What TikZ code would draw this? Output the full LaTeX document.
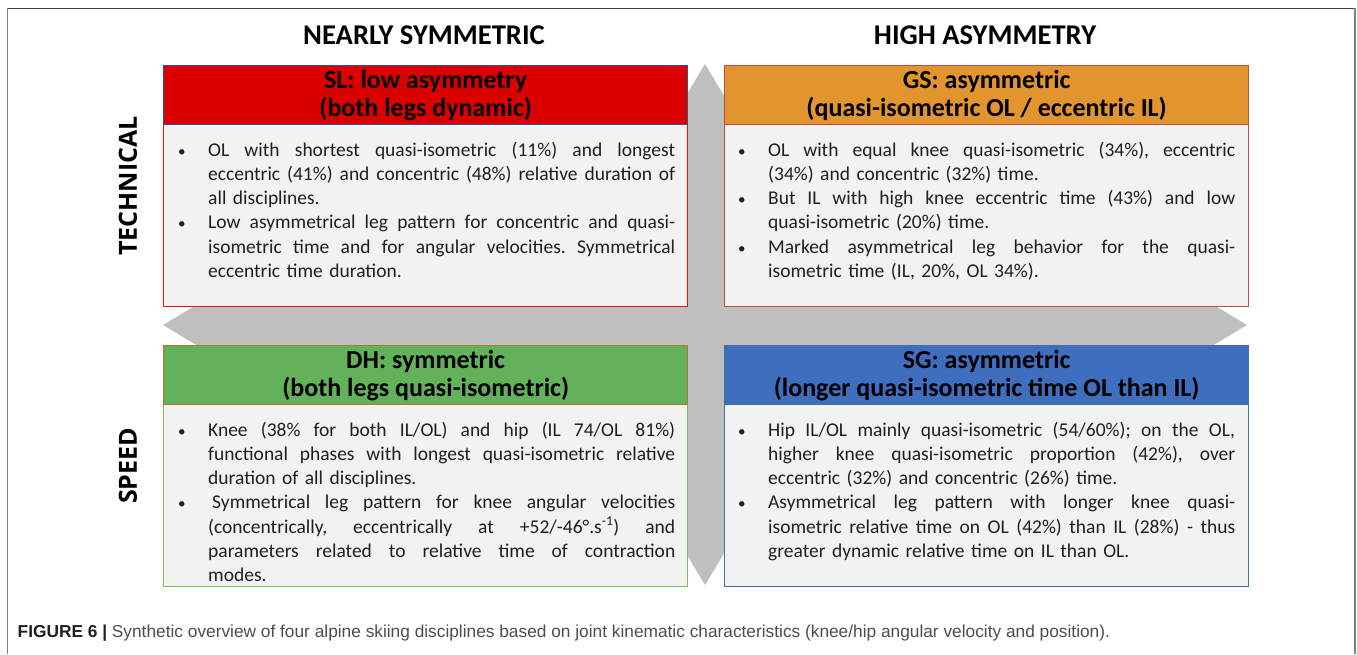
\documentclass[tikz,border=0pt]{standalone}
\usepackage{fontspec}
\setmainfont{Carlito}
\newfontfamily\capfont{Liberation Sans}
\newfontfamily\sidefont{Open Sans}
\definecolor{slred}{HTML}{DA0000}
\definecolor{slhb}{HTML}{2F528F}
\definecolor{slbb}{HTML}{F01010}
\definecolor{gsor}{HTML}{E2952F}
\definecolor{gsb}{HTML}{BE4B48}
\definecolor{dhgr}{HTML}{63B15A}
\definecolor{dhhb}{HTML}{B5782A}
\definecolor{dhbb}{HTML}{70BF5C}
\definecolor{sgbl}{HTML}{3F6EBE}
\definecolor{sgb}{HTML}{41719C}
\definecolor{arrgray}{HTML}{BFBFBF}
\definecolor{bodyfill}{HTML}{F2F2F2}
\definecolor{capdark}{HTML}{231F20}
\definecolor{capgray}{HTML}{4D4D4D}
\newcommand\jbox[1]{\hbox to 467pt{\spaceskip=\fontdimen2\font plus 1fil\relax\xspaceskip=\spaceskip #1}}
\newcommand\bfirst[1]{\noindent\hbox to 31pt{\strut\kern1pt{\fontsize{15}{15}\selectfont\textbullet}\hfil}\jbox{#1}\par}
\newcommand\bmid[1]{\noindent\hspace*{31pt}\jbox{#1}\par}
\newcommand\blast[1]{\noindent\hspace*{31pt}#1\par}
\tikzset{
  hdr/.style={draw, line width=1.3pt, inner sep=0pt, minimum width=524pt, minimum height=59pt,
    anchor=north west, align=center, text=black, font=\bfseries\fontsize{26}{28}\selectfont},
  bodyrect/.style={draw, line width=1.3pt, fill=bodyfill, inner sep=0pt, minimum width=524pt,
    minimum height=182pt, anchor=north west},
  txt/.style={text width=498pt, inner sep=0pt, anchor=north west, text=black!88,
    font=\fontsize{19.5}{24.3}\selectfont\frenchspacing},
  coltitle/.style={inner sep=0pt, anchor=center, font=\bfseries\fontsize{28.6}{31}\selectfont},
  sidelabel/.style={inner sep=0pt, anchor=center, rotate=90, font=\sidefont\bfseries\fontsize{25}{28}\selectfont}
}
\begin{document}
\begin{tikzpicture}[x=1pt,y=-1pt]
\useasboundingbox (0,0) rectangle (1357,654);
% frame
\draw[line width=1.5pt, black!75] (7.3,8.3) -- (1355,8.3);
\draw[line width=1.5pt, black!50] (7.3,8.3) -- (7.3,654);
\draw[line width=1.5pt, black!50] (1355,8.3) -- (1355,654);
% cross arrows
\fill[arrgray] (705,64) -- (750,139) -- (735,139) -- (735,510) -- (750,510) -- (705,585)
  -- (660,510) -- (675,510) -- (675,139) -- (660,139) -- cycle;
\fill[arrgray] (163,325) -- (238,280) -- (238,295) -- (1172,295) -- (1172,280) -- (1247,325)
  -- (1172,370) -- (1172,355) -- (238,355) -- (238,370) -- cycle;
% titles
\node[coltitle] (t1) at (424,35) {NEARLY SYMMETRIC};
\node[coltitle] (t2) at (985,35) {HIGH ASYMMETRY};
\node[sidelabel] (s1) at (128,186) {TECHNICAL};
\node[sidelabel] (s2) at (128,466) {SPEED};
% SL
\node[bodyrect, draw=slbb] (slb) at (163,124) {};
\node[hdr, fill=slred, draw=slhb] (slh) at (163,65) {SL: low asymmetry\\(both legs dynamic)};
\node[txt] (slt) at (177,138.8) {%
\bfirst{OL with shortest quasi-isometric (11\%) and longest}
\bmid{eccentric (41\%) and concentric (48\%) relative duration of}
\blast{all disciplines.}
\bfirst{Low asymmetrical leg pattern for concentric and quasi-}
\bmid{isometric time and for angular velocities. Symmetrical}
\blast{eccentric time duration.}};
% GS
\node[bodyrect, draw=gsb] (gsb) at (724,124) {};
\node[hdr, fill=gsor, draw=gsb] (gsh) at (724,65) {GS: asymmetric\\(quasi-isometric OL / eccentric IL)};
\node[txt] (gst) at (737,138.8) {%
\bfirst{OL with equal knee quasi-isometric (34\%), eccentric}
\blast{(34\%) and concentric (32\%) time.}
\bfirst{But IL with high knee eccentric time (43\%) and low}
\blast{quasi-isometric (20\%) time.}
\bfirst{Marked asymmetrical leg behavior for the quasi-}
\blast{isometric time (IL, 20\%, OL 34\%).}};
% DH
\node[bodyrect, draw=dhbb] (dhb) at (163,404) {};
\node[hdr, fill=dhgr, draw=dhhb] (dhh) at (163,345) {DH: symmetric\\(both legs quasi-isometric)};
\node[txt] (dht) at (177,418.8) {%
\bfirst{Knee (38\% for both IL/OL) and hip (IL 74/OL 81\%)}
\bmid{functional phases with longest quasi-isometric relative}
\blast{duration of all disciplines.}
\bfirst{\kern4pt Symmetrical leg pattern for knee angular velocities}
\bmid{(concentrically, eccentrically at +52/-46°.s\textsuperscript{-1}) and}
\bmid{parameters related to relative time of contraction}
\blast{modes.}};
% SG
\node[bodyrect, draw=sgb] (sgbx) at (724,404) {};
\node[hdr, fill=sgbl, draw=sgb] (sgh) at (724,345) {SG: asymmetric\\(longer quasi-isometric time OL than IL)};
\node[txt] (sgt) at (737,418.8) {%
\bfirst{Hip IL/OL mainly quasi-isometric (54/60\%); on the OL,}
\bmid{higher knee quasi-isometric proportion (42\%), over}
\blast{eccentric (32\%) and concentric (26\%) time.}
\bfirst{Asymmetrical leg pattern with longer knee quasi-}
\bmid{isometric relative time on OL (42\%) than IL (28\%) - thus}
\blast{greater dynamic relative time on IL than OL.}};
% caption
\node[anchor=base west, inner sep=0pt, font=\capfont\fontsize{17.3}{19}\selectfont] (cap) at (17.5,637)
  {\textcolor{capdark}{\bfseries FIGURE 6 |} \textcolor{capgray}{Synthetic overview of four alpine skiing disciplines based on joint kinematic characteristics (knee/hip angular velocity and position).}};
\end{tikzpicture}
\end{document}
